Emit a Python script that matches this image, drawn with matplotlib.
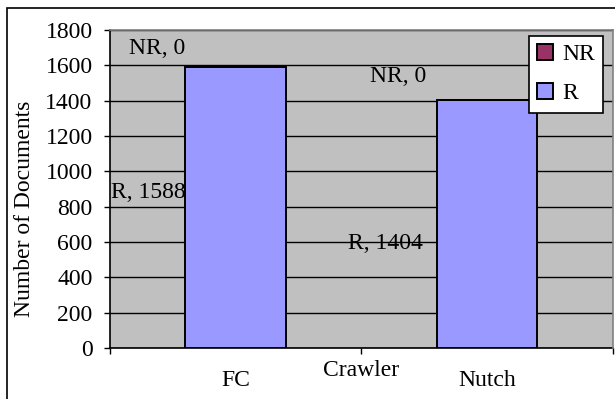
import matplotlib
matplotlib.use("Agg")
import matplotlib.pyplot as plt
import matplotlib.transforms as mtransforms
from matplotlib.patches import Rectangle, Patch

# data
crawlers = ["FC", "Nutch"]
r_docs = [1588, 1404]
nr_docs = [0, 0]
series = ["NR", "R"]

# where Excel dropped the data labels (data coords), kept apart from the values
r_label_pos = [(-0.2, 883), (0.747, 594)]
nr_label_pos = [(-0.313, 1698), (0.647, 1534)]

plt.rcParams["font.family"] = ["Liberation Serif", "DejaVu Serif"]
FS = 17
W, H = 615, 399

fig = plt.figure(figsize=(W / 100, H / 100), dpi=100)
fig.patch.set_facecolor("white")

# outer chart frame (right/bottom run off the picture)
fig.patches.append(Rectangle((7 / W, -0.05), 1.1, (H - 8) / H + 0.05,
                             transform=fig.transFigure, fill=False,
                             edgecolor="black", linewidth=1.2))

ax = fig.add_axes([110 / W, (H - 348) / H, (612.5 - 110) / W, (348 - 30) / H])
ax.set_facecolor("#C0C0C0")

x = range(len(crawlers))
ax.bar(x, r_docs, width=0.4, color="#9999FF", edgecolor="black", linewidth=1.4,
       zorder=3, label="R")
ax.bar(x, nr_docs, width=0.4, bottom=r_docs, color="#993366", edgecolor="black",
       linewidth=1.4, zorder=3, label="NR")

ax.set_xlim(-0.5, 1.5)
ax.set_ylim(0, 1800)
ax.set_yticks(range(0, 1801, 200))
ax.tick_params(axis="y", direction="out", length=4.5, width=1, pad=8, labelsize=FS)

ax.set_xticks(list(x))
ax.set_xticklabels(crawlers)
ax.set_xticks([-0.5, 0.5, 1.5], minor=True)
ax.tick_params(axis="x", which="major", length=0, pad=16, labelsize=FS)
ax.tick_params(axis="x", which="minor", direction="out", length=4, width=1)

ax.yaxis.grid(True, color="black", linewidth=1)
ax.set_axisbelow(True)
for side in ["top", "right"]:
    ax.spines[side].set_color("#808080")
    ax.spines[side].set_linewidth(1.2)
    ax.spines[side].set_zorder(5)
for side in ["left", "bottom"]:
    ax.spines[side].set_color("black")
    ax.spines[side].set_linewidth(1.2)

# data labels
for (lx, ly), v in zip(r_label_pos, r_docs):
    ax.text(lx, ly, f"R, {v}", ha="right", va="center", fontsize=FS, zorder=6)
for (lx, ly), v in zip(nr_label_pos, nr_docs):
    ax.text(lx, ly, f"NR, {v}", ha="center", va="center", fontsize=FS, zorder=6)

# category axis title sits between the categories
trans = mtransforms.blended_transform_factory(ax.transData, ax.transAxes)
ax.annotate("Crawler", xy=(0.5, 0), xycoords=trans, xytext=(0, -16),
            textcoords="offset points", ha="center", va="center", fontsize=FS)

fig.text(25 / W, 1 - 209 / H, "Number of Documents", rotation=90,
         ha="center", va="center", fontsize=FS)

# legend, NR listed first like the original
handles = [Patch(facecolor="#993366", edgecolor="black", linewidth=1.4),
           Patch(facecolor="#9999FF", edgecolor="black", linewidth=1.4)]
leg = ax.legend(handles, series, loc="upper right",
                bbox_to_anchor=((603 - 110) / (612.5 - 110), (348 - 36) / (348 - 30)),
                fontsize=FS, frameon=True, fancybox=False, framealpha=1,
                edgecolor="black", handlelength=0.65, handleheight=0.65,
                handletextpad=0.4, labelspacing=0.75, borderpad=0.35,
                borderaxespad=0)
leg.get_frame().set_linewidth(1.2)

fig.savefig("out.png", dpi=100)
